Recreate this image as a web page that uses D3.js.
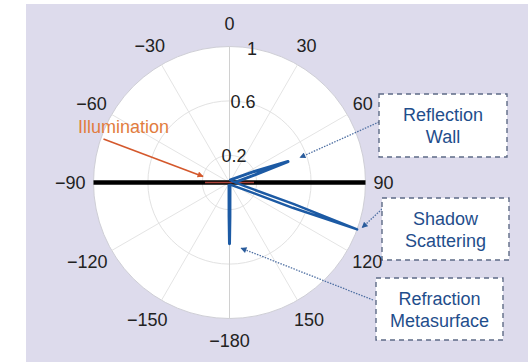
<!DOCTYPE html>
<html><head><meta charset="utf-8">
<script src="https://cdn.jsdelivr.net/npm/d3@7"></script>
<style>html,body{margin:0;padding:0;background:#fff;}svg{display:block;}</style>
</head><body>
<svg id="chart" width="528" height="362"></svg>
<script>
// ---- data ----
const angleTicks = [0, 30, 60, 90, 120, 150, 180, -150, -120, -90, -60, -30];
const angleLabels = ["0", "30", "60", "90", "120", "150", "\u2212180", "\u2212150", "\u2212120", "\u221290", "\u221260", "\u221230"];
const rTicks = [0.2, 0.6, 1];
const rTickLabels = ["0.2", "0.6", "1"];
const rGridRings = [0.2, 0.6];

// wall (black) and illumination (red) traces
const thetaWall = [-90, 90];
const rWall = [1, 1];
const thetaIllum = [-90, 90];
const rIllum = [0.18, 0.18];

// scattered lobes (blue)
const thetaReflection = [20, 66, 70.3, 73, 85];
const rReflection = [0.02, 0.2, 0.457, 0.2, 0.05];
const thetaShadow = [60, 104, 108.6, 110.2, 111.8, 116, 150];
const rShadow = [0.02, 0.12, 0.5, 1.0, 0.5, 0.12, 0.02];
const thetaRefraction = [170, 179.3, 180, 180.7, 190];
const rRefraction = [0.02, 0.25, 0.45, 0.25, 0.02];

// annotations
const annoLabels = [["Reflection", "Wall"], ["Shadow", "Scattering"], ["Refraction", "Metasurface"]];
const annoTargets = [[70.5, 0.55], [108.8, 1.03], [170, 0.49]];
const illumLabel = "Illumination";
const illumArrow = [[-71, 0.98], [-77, 0.2]];

// ---- layout ----
const svg = d3.select("#chart");
const cx = 229.5, cy = 182.5, R = 136;
const font = "'Liberation Sans', Arial, Helvetica, sans-serif";
const blue = "#1c5aa4", textBlue = "#1f4e8c";

svg.append("rect").attr("x", 26).attr("y", 4).attr("width", 502).attr("height", 358).attr("fill", "#dddbec");

const r = d3.scaleLinear().domain([0, 1]).range([0, R]);
const rad = d => d * Math.PI / 180;
const pt = (th, rv) => [cx + r(rv) * Math.sin(rad(th)), cy - r(rv) * Math.cos(rad(th))];

const g = svg.append("g").attr("transform", `translate(${cx},${cy})`);

// disk
g.append("circle").attr("r", r(1)).attr("fill", "#fff").attr("stroke", "#cfcfd6").attr("stroke-width", 1);

// rings
g.selectAll(".ring").data(rGridRings).enter().append("circle")
  .attr("r", d => r(d)).attr("fill", "none").attr("stroke", "#e2e2e2").attr("stroke-width", 1);

// spokes
g.selectAll(".spoke").data(angleTicks).enter().append("line")
  .attr("x1", 0).attr("y1", 0)
  .attr("x2", d => r(1) * Math.sin(rad(d))).attr("y2", d => -r(1) * Math.cos(rad(d)))
  .attr("stroke", d => (d === 0 || d === 180) ? "#d0d0d0" : "#e4e4e4").attr("stroke-width", 1);

const line = d3.lineRadial().angle(d => rad(d[0])).radius(d => r(d[1]));
const zip = (a, b) => a.map((v, i) => [v, b[i]]);

g.append("path").attr("d", line(zip(thetaWall, rWall))).attr("fill", "none").attr("stroke", "#000").attr("stroke-width", 4.5);
g.append("path").attr("d", line(zip(thetaIllum, rIllum))).attr("fill", "none").attr("stroke", "#a8433a").attr("stroke-width", 1.6);

[[thetaReflection, rReflection, 3], [thetaShadow, rShadow, 2.4], [thetaRefraction, rRefraction, 3]].forEach(([t, rv, w]) => {
  g.append("path").attr("d", line(zip(t, rv))).attr("fill", "none").attr("stroke", blue)
    .attr("stroke-width", w).attr("stroke-linejoin", "round").attr("stroke-linecap", "round");
});

// arrow markers
const defs = svg.append("defs");
function marker(id, color) {
  defs.append("marker").attr("id", id).attr("viewBox", "0 0 10 10").attr("refX", 9).attr("refY", 5)
    .attr("markerWidth", 7).attr("markerHeight", 6).attr("markerUnits", "userSpaceOnUse").attr("orient", "auto")
    .append("path").attr("d", "M0,0 L10,5 L0,10 Z").attr("fill", color);
}
marker("ah-orange", "#d4582c");
marker("ah-blue", "#2a5c9c");

// illumination annotation
const ia = pt(...illumArrow[0]), ib = pt(...illumArrow[1]);
svg.append("line").attr("x1", ia[0]).attr("y1", ia[1]).attr("x2", ib[0]).attr("y2", ib[1])
  .attr("stroke", "#d4582c").attr("stroke-width", 1.6).attr("marker-end", "url(#ah-orange)");
svg.append("text").text(illumLabel).attr("x", 78).attr("y", 133).attr("font-family", font)
  .attr("font-size", 18).attr("fill", "#e27c3e");

// boxes
const boxes = [
  {x: 379, y: 94, w: 128, h: 63, sx: 379, sy: 122},
  {x: 382, y: 198, w: 127, h: 62, sx: 382, sy: 209},
  {x: 376, y: 278, w: 127, h: 62, sx: 373, sy: 300}
];
boxes.forEach((b, i) => {
  const tp = pt(...annoTargets[i]);
  svg.append("line").attr("x1", b.sx).attr("y1", b.sy).attr("x2", tp[0]).attr("y2", tp[1])
    .attr("stroke", "#4f70a3").attr("stroke-width", 1.3).attr("stroke-dasharray", "1.5,1.3")
    .attr("marker-end", "url(#ah-blue)");
  svg.append("rect").attr("x", b.x).attr("y", b.y).attr("width", b.w).attr("height", b.h)
    .attr("fill", "#fff").attr("stroke", "#5e6b86").attr("stroke-width", 1.4).attr("stroke-dasharray", "5,4");
  const t = svg.append("text").attr("font-family", font).attr("font-size", 18).attr("fill", textBlue)
    .attr("text-anchor", "middle");
  annoLabels[i].forEach((s, j) => {
    t.append("tspan").text(s).attr("x", b.x + b.w / 2).attr("y", b.y + 27 + j * 22);
  });
});

// angle labels (on top)
const lab = svg.append("g").attr("font-family", font).attr("font-size", 18).attr("fill", "#222");
angleTicks.forEach((a, i) => {
  const t = lab.append("text").text(angleLabels[i]).attr("text-anchor", "middle").attr("dy", "0.35em");
  const w = t.node().getComputedTextLength(), h = 13, gx = 8, gy = 16;
  const s = Math.sin(rad(a)), c = Math.cos(rad(a));
  t.attr("x", cx + (R + gx) * s + s * w / 2).attr("y", cy - (R + gy) * c - c * h / 2);
});

// radial tick labels
rTicks.forEach((v, i) => {
  const p = pt(9.5, v);
  lab.append("text").text(rTickLabels[i]).attr("text-anchor", "middle").attr("dy", "0.35em")
    .attr("x", p[0]).attr("y", p[1]);
});
</script>
</body></html>
